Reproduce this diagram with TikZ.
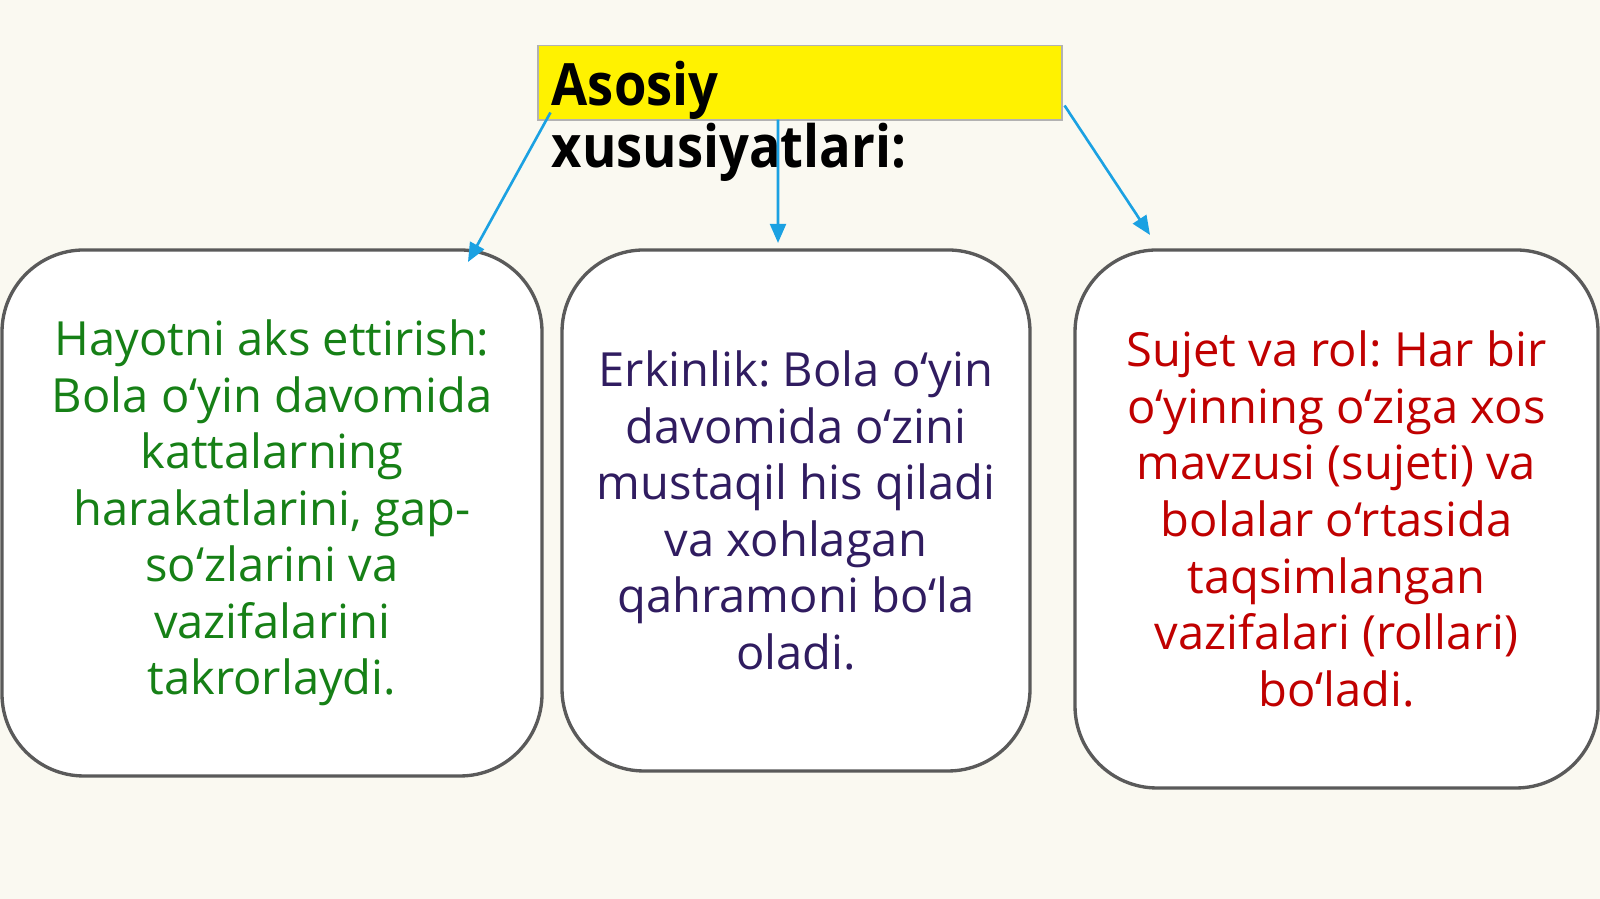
\documentclass[tikz,border=0pt]{standalone}
\usepackage{fontspec}
\setmainfont{Open Sans}
\newfontfamily\headfont{Open Sans}[FakeStretch=0.9]
\usepackage{xcolor}
\usetikzlibrary{shapes, arrows, positioning, arrows.meta, calc}

\definecolor{bgcream}{RGB}{250,249,241}
\definecolor{arrowblue}{RGB}{27,161,226}
\definecolor{txtgreen}{RGB}{22,128,22}
\definecolor{txtnavy}{RGB}{48,28,96}
\definecolor{txtred}{RGB}{192,0,0}
\definecolor{boxgray}{RGB}{90,90,90}

\tikzset{
    card/.style={draw=boxgray, line width=0.95pt, fill=white, rounded corners=0.82cm,
        align=center, inner sep=0pt, font=\fontsize{13.4}{16.1}\selectfont},
    link/.style={-{Triangle[length=5.4pt, width=4.5pt]}, draw=arrowblue, line width=0.75pt},
}

\frenchspacing
\begin{document}
\begin{tikzpicture}[>=Stealth]

    % Background
    \useasboundingbox (0,0) rectangle (16,8.99);
    \fill[bgcream] (0,0) rectangle (16,8.99);

    % Title with yellow band
    \node[fill=yellow, draw=black!30, line width=0.3pt, minimum width=5.24cm,
        minimum height=0.74cm, inner sep=0pt] (head) at (8.00,8.16) {};
    \node[anchor=base west, align=left, inner sep=0pt,
        font=\headfont\bfseries\fontsize{16.6}{17.9}\selectfont] (title) at (5.51,7.31)
        {Asosiy\\xususiyatlari:};

    % Three cards
    \node[card, text=txtgreen, minimum width=5.40cm, minimum height=5.26cm] (life) at (2.72,3.86)
        {Hayotni aks ettirish:\\Bola o‘yin davomida\\kattalarning\\harakatlarini, gap-\\so‘zlarini va\\vazifalarini\\takrorlaydi.};
    \node[card, text=txtnavy, minimum width=4.68cm, minimum height=5.21cm] (free) at (7.96,3.885)
        {Erkinlik: Bola o‘yin\\davomida o‘zini\\mustaqil his qiladi\\va xohlagan\\qahramoni bo‘la\\oladi.};
    \node[card, text=txtred, minimum width=5.23cm, minimum height=5.38cm] (role) at (13.365,3.80)
        {Sujet va rol: Har bir\\o‘yinning o‘ziga xos\\mavzusi (sujeti) va\\bolalar o‘rtasida\\taqsimlangan\\vazifalari (rollari)\\bo‘ladi.};

    % Arrow ends
    \coordinate (lifein) at (4.68,6.37);
    \coordinate (freein) at (7.78,6.56);
    \coordinate (rolein) at (11.50,6.64);

    % Arrows from title
    \draw[link] ($(head.south west)+(0.13,0.08)$) -- (lifein);
    \draw[link] ($(head.south)+(-0.22,0.01)$) -- (freein);
    \draw[link] ($(head.south east)+(0.02,0.15)$) -- (rolein);

\end{tikzpicture}
\end{document}
